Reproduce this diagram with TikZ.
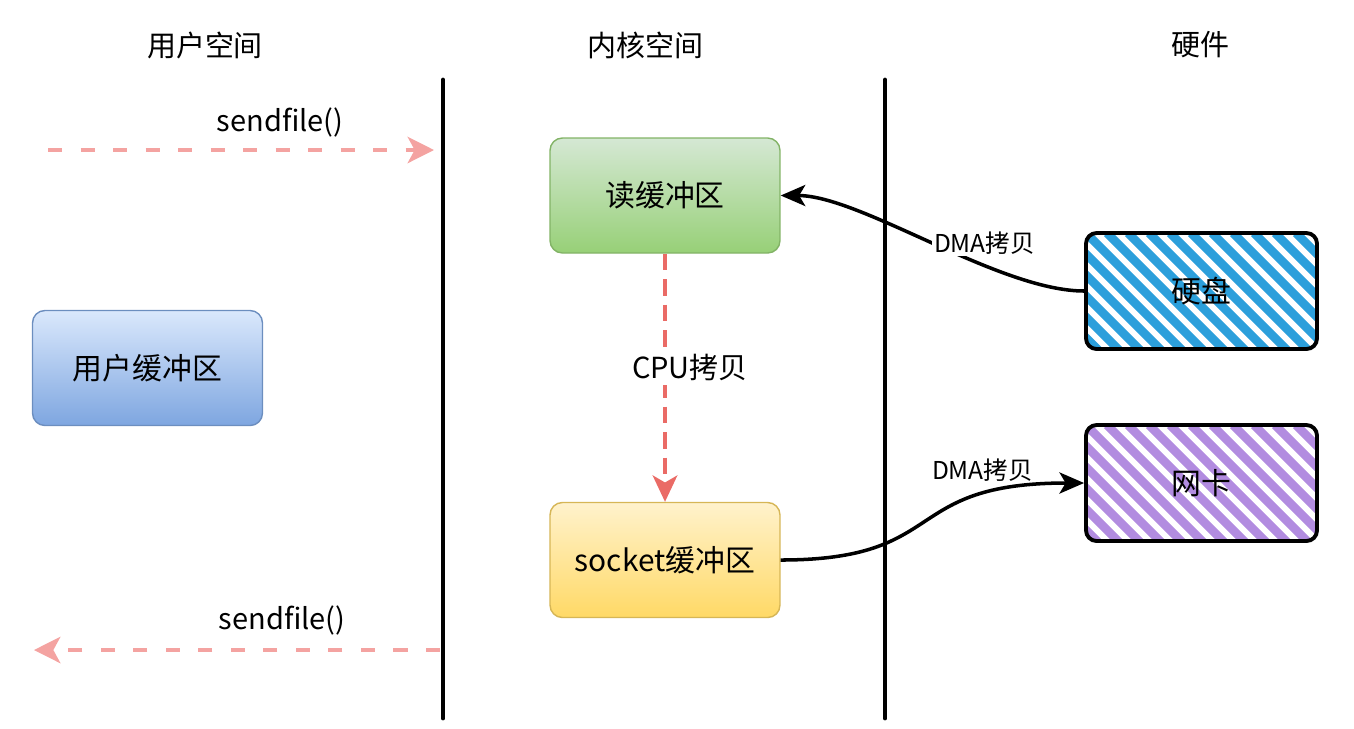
\documentclass[tikz,border=0pt]{standalone}
\usepackage{fontspec}
\setmainfont{Noto Sans CJK SC}
\usetikzlibrary{arrows.meta}
\definecolor{sendpink}{HTML}{F4A3A1}
\definecolor{cpured}{HTML}{EA6B66}
\definecolor{diskblue}{HTML}{2C9FDB}
\definecolor{nicpurple}{HTML}{B28CE0}
\definecolor{ublue1}{HTML}{DAE8FC}
\definecolor{ublue2}{HTML}{7EA6E0}
\definecolor{ublueb}{HTML}{6C8EBF}
\definecolor{rgreen1}{HTML}{D5E8D4}
\definecolor{rgreen2}{HTML}{97D077}
\definecolor{rgreenb}{HTML}{82B366}
\definecolor{syellow1}{HTML}{FFF2CC}
\definecolor{syellow2}{HTML}{FFD966}
\definecolor{syellowb}{HTML}{D6B656}
\begin{document}
\begin{tikzpicture}[x=0.02cm, y=-0.02cm,
    title/.style={font=\fontsize{16.5}{18}\selectfont},
    buf/.style={rounded corners=7pt, line width=0.8pt, minimum width=4.6cm,
                minimum height=2.3cm, font=\fontsize{17}{19}\selectfont},
    hw/.style={draw=black, line width=2.2pt, rounded corners=6pt,
               minimum width=4.62cm, minimum height=2.32cm, font=\fontsize{17}{19}\selectfont,
               path picture={\foreach \k in {-6,...,12}
                   \draw[#1, line width=5pt]
                       ([xshift=\k*0.42cm]path picture bounding box.north west) -- ++(2.8cm,-2.8cm);}},
    wall/.style={line width=2.8pt, line cap=round},
    sendarrow/.style={sendpink, line width=2.2pt, dash pattern=on 8pt off 10.5pt,
                      -{Stealth[length=15pt, width=15pt, inset=4pt]}},
    sendlabel/.style={font=\fontsize{16.5}{18}\selectfont},
    cpuarrow/.style={cpured, line width=2pt, dash pattern=on 9.5pt off 5pt,
                     -{Stealth[length=15pt, width=14pt, inset=4pt]}},
    cpulabel/.style={fill=white, text=black, inner sep=2pt, font=\fontsize{16.5}{18}\selectfont},
    dma/.style={line width=2pt, -{Stealth[length=14pt, width=12pt, inset=3.5pt]}},
    dmalabel/.style={fill=white, inner sep=1pt, font=\fontsize{14}{16}\selectfont}]
    \useasboundingbox (0,0) rectangle (1354,728);

    \node[title] (tuser) at (205,45) {用户空间};
    \node[title] (tkernel) at (645,45) {内核空间};
    \node[title] (thw) at (1200,45) {硬件};

    \coordinate (wa1) at (443,80);
    \coordinate (wa2) at (443,718);
    \coordinate (wb1) at (885,80);
    \coordinate (wb2) at (885,718);
    \draw[wall] (wa1) -- (wa2)
                (wb1) -- (wb2);

    \node[buf, top color=ublue1, bottom color=ublue2, draw=ublueb] (userbuf) at (147.5,368) {用户缓冲区};
    \node[buf, top color=rgreen1, bottom color=rgreen2, draw=rgreenb] (readbuf) at (665,195.5) {读缓冲区};
    \node[buf, top color=syellow1, bottom color=syellow2, draw=syellowb] (sockbuf) at (665,560) {socket缓冲区};
    \node[hw=diskblue] (disk) at (1201.5,291) {硬盘};
    \node[hw=nicpurple] (nic) at (1201.5,483) {网卡};

    \node[sendlabel] (sfa) at (280,122) {sendfile()};
    \node[sendlabel] (sfb) at (282,620) {sendfile()};
    \coordinate (sfa1) at (48,150);
    \coordinate (sfa2) at (434,150);
    \coordinate (sfb1) at (440,650);
    \coordinate (sfb2) at (34,650);
    \draw[sendarrow] (sfa1) -- (sfa2);
    \draw[sendarrow] (sfb1) -- (sfb2);

    \draw[cpuarrow] (readbuf.south) -- node[cpulabel, pos=.46, xshift=0.5cm] {CPU拷贝} (sockbuf.north);
    \draw[dma] (disk.west) .. controls +(-85,0) and +(80,0) ..
               node[dmalabel, pos=.5, anchor=west] {DMA拷贝} (readbuf.east);
    \draw[dma] (sockbuf.east) .. controls +(170,0) and +(-185,0) ..
               node[dmalabel, fill=none, pos=.75, above=6pt] {DMA拷贝} (nic.west);
\end{tikzpicture}
\end{document}
